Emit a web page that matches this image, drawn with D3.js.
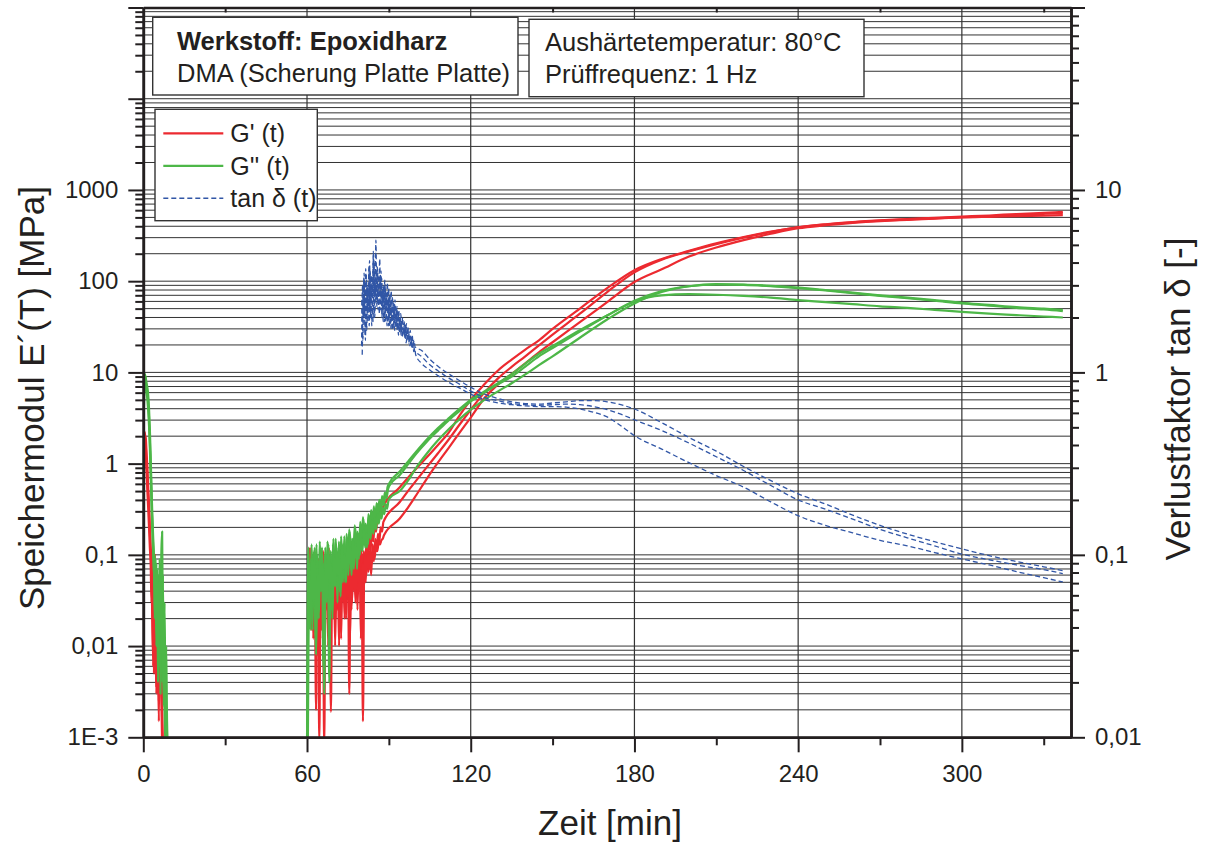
<!DOCTYPE html>
<html>
<head>
<meta charset="utf-8">
<script src="https://cdn.jsdelivr.net/npm/d3@7"></script>
<style>
  body { margin: 0; background: #fff; }
  svg { display: block; }
  text { font-family: "Liberation Sans", Arial, Helvetica, sans-serif; fill: #231f20; }
</style>
</head>
<body>
<div id="chart"></div>
<script>
// ---------------- Data ----------------
// time sampling of the segments [min]
var earlyStep = 0.3, noiseStep = 0.5, tanNoiseStep = 0.35;
var tSmooth = [94, 97, 100, 104, 108, 112, 116, 120, 125, 130, 135, 140, 145, 150, 160, 170, 180, 190, 200, 210, 220, 230, 240, 250, 260, 270, 280, 290, 300, 310, 320, 330, 337];
var tTan = [102, 105, 108, 112, 116, 120, 125, 130, 135, 140, 145, 150, 155, 160, 165, 170, 175, 180, 190, 200, 210, 220, 230, 240, 250, 260, 270, 280, 290, 300, 310, 320, 330, 337];

// G' [MPa], runs 1-3
var gpEarly1 = [1.0, 1.8, 2.2, 1.6, 1.1, 0.7, 0.45, 0.3, 0.18, 0.11, 0.06, 0.02, 0.008, 0.1, 0.005, 0.03, 0.004, 0.02, 0.003, 0.034, 0.017, 0.005, 0.012, 0.002, 0.0008];
var gpEarly2 = [0.6, 1.4, 2.0, 1.9, 1.3, 0.9, 0.55, 0.35, 0.2, 0.12, 0.1, 0.04, 0.006, 0.015, 0.1, 0.01, 0.003, 0.025, 0.008, 0.0015, 0.02, 0.006, 0.003, 0.0008];
var gpEarly3 = [1.5, 2.3, 1.8, 1.2, 0.8, 0.5, 0.32, 0.2, 0.12, 0.08, 0.03, 0.1, 0.012, 0.005, 0.06, 0.009, 0.0035, 0.02, 0.006, 0.0025, 0.03, 0.004, 0.01, 0.0015, 0.0008];
var gpNoiseStart = [60.8, 61.0, 61.25];
var gpNoise1 = [0.1, 0.04, 0.08, 0.012, 0.11, 0.002, 0.07, 0.02, 0.1, 0.015,
                0.06, 0.0008, 0.09, 0.025, 0.12, 0.015, 0.08, 0.03, 0.1, 0.01,
                0.07, 0.025, 0.1, 0.015, 0.08, 0.035, 0.09, 0.02, 0.07, 0.03,
                0.1, 0.025, 0.08, 0.04, 0.11, 0.035, 0.09, 0.05, 0.12, 0.06,
                0.11, 0.07, 0.14, 0.09, 0.16, 0.11, 0.19, 0.14, 0.22, 0.18,
                0.25, 0.23, 0.29, 0.28, 0.33];
var gpNoise2 = [0.12, 0.04, 0.09, 0.015, 0.1, 0.02, 0.07, 0.0009, 0.08, 0.03,
                0.11, 0.012, 0.09, 0.035, 0.12, 0.008, 0.08, 0.025, 0.1, 0.02,
                0.09, 0.04, 0.07, 0.012, 0.09, 0.03, 0.1, 0.045, 0.08, 0.003,
                0.09, 0.03, 0.1, 0.05, 0.09, 0.025, 0.11, 0.04, 0.09, 0.0015,
                0.1, 0.05, 0.12, 0.065, 0.11, 0.06, 0.13, 0.085, 0.15, 0.11,
                0.17, 0.14, 0.2, 0.18, 0.23];
var gpNoise3 = [0.08, 0.015, 0.1, 0.03, 0.07, 0.008, 0.09, 0.02, 0.11, 0.012,
                0.06, 0.025, 0.09, 0.01, 0.1, 0.0019, 0.08, 0.02, 0.1, 0.035,
                0.07, 0.01, 0.09, 0.03, 0.1, 0.02, 0.08, 0.035, 0.09, 0.012,
                0.08, 0.04, 0.1, 0.03, 0.09, 0.05, 0.1, 0.012, 0.08, 0.05,
                0.1, 0.06, 0.1, 0.07, 0.11, 0.08, 0.115, 0.09, 0.125, 0.11,
                0.135, 0.13, 0.145, 0.15, 0.165];
var gpSmooth1 = [0.55, 0.70, 0.88, 1.18, 1.6, 2.2, 3.4, 5.0, 7.4, 10.5, 13.8, 17.8, 22.5, 30, 50, 84, 132, 175, 215, 260, 305, 350, 390, 420, 445, 465, 480, 495, 510, 525, 545, 562, 575];
var gpSmooth2 = [0.38, 0.5, 0.65, 0.92, 1.3, 1.85, 2.7, 3.9, 6.0, 8.6, 11.5, 15, 19.8, 26, 44, 76, 125, 172, 212, 255, 300, 345, 388, 418, 442, 460, 474, 488, 502, 515, 532, 548, 558];
var gpSmooth3 = [0.25, 0.33, 0.45, 0.69, 1.03, 1.5, 2.2, 3.2, 5.2, 7.4, 9.6, 12.6, 16.6, 21.4, 35.5, 59, 98, 135, 186, 234, 282, 331, 380, 410, 435, 455, 470, 485, 500, 508, 515, 523, 530];

// G'' [MPa], runs 1-3
var gppEarly1 = [3.5, 7.0, 9.6, 8.2, 7.5, 6.8, 5.6, 4.0, 2.4, 1.2, 0.55, 0.28, 0.16, 0.1, 0.04, 0.09, 0.02, 0.07, 0.012, 0.05, 0.006, 0.08, 0.02, 0.004, 0.06, 0.003, 0.03, 0.0025, 0.01, 0.0015, 0.0008];
var gppEarly2 = [2.2, 5.0, 8.0, 9.0, 7.0, 6.0, 4.8, 3.2, 1.8, 0.9, 0.45, 0.22, 0.12, 0.06, 0.1, 0.03, 0.08, 0.015, 0.06, 0.008, 0.04, 0.003, 0.1, 0.18, 0.01, 0.004, 0.002, 0.0008];
var gppEarly3 = [4.0, 6.0, 8.5, 7.0, 6.2, 5.0, 3.8, 2.6, 1.5, 0.75, 0.38, 0.2, 0.11, 0.07, 0.02, 0.06, 0.01, 0.05, 0.004, 0.03, 0.09, 0.015, 0.05, 0.006, 0.02, 0.0022, 0.012, 0.0018, 0.0008];
var gppNoiseStart = [60.0, 60.17, 60.33];
var gppNoise1 = [0.0008, 0.12, 0.03, 0.09, 0.015, 0.11, 0.05, 0.13, 0.02, 0.08,
                 0.04, 0.12, 0.006, 0.1, 0.035, 0.14, 0.06, 0.09, 0.025, 0.13,
                 0.05, 0.15, 0.07, 0.11, 0.04, 0.16, 0.08, 0.13, 0.05, 0.17,
                 0.09, 0.19, 0.07, 0.15, 0.1, 0.21, 0.11, 0.18, 0.09, 0.23,
                 0.13, 0.26, 0.15, 0.22, 0.12, 0.28, 0.17, 0.31, 0.2, 0.34,
                 0.22, 0.37, 0.27, 0.4, 0.3, 0.44, 0.35, 0.48, 0.42, 0.55, 0.6];
var gppNoise2 = [0.0009, 0.08, 0.02, 0.13, 0.04, 0.07, 0.01, 0.1, 0.03, 0.14,
                 0.05, 0.09, 0.02, 0.12, 0.06, 0.1, 0.004, 0.11, 0.04, 0.15,
                 0.06, 0.12, 0.03, 0.14, 0.07, 0.1, 0.05, 0.16, 0.08, 0.12,
                 0.06, 0.18, 0.1, 0.14, 0.07, 0.2, 0.12, 0.17, 0.1, 0.22,
                 0.14, 0.25, 0.13, 0.21, 0.16, 0.27, 0.18, 0.3, 0.21, 0.32,
                 0.24, 0.36, 0.28, 0.39, 0.31, 0.43, 0.36, 0.47, 0.42, 0.52, 0.57];
var gppNoise3 = [0.001, 0.06, 0.015, 0.1, 0.03, 0.12, 0.008, 0.07, 0.02, 0.11,
                 0.04, 0.08, 0.003, 0.09, 0.03, 0.13, 0.05, 0.08, 0.02, 0.1,
                 0.045, 0.12, 0.06, 0.09, 0.035, 0.13, 0.07, 0.1, 0.05, 0.14,
                 0.08, 0.12, 0.06, 0.15, 0.09, 0.13, 0.07, 0.17, 0.1, 0.15,
                 0.11, 0.19, 0.12, 0.17, 0.13, 0.21, 0.15, 0.24, 0.17, 0.26,
                 0.19, 0.28, 0.22, 0.3, 0.25, 0.33, 0.28, 0.36, 0.32, 0.39, 0.42];
var gppSmooth1 = [0.82, 1.05, 1.35, 1.85, 2.45, 3.15, 4.0, 5.0, 6.2, 7.6, 9.6, 12.5, 16, 19.5, 29, 42, 60, 70, 72, 71, 69, 66, 62, 59, 56, 53, 51, 48.5, 46, 44, 42.5, 41, 40];
var gppSmooth2 = [0.75, 0.98, 1.28, 1.75, 2.3, 3.0, 3.8, 4.8, 6.0, 7.4, 9.0, 11.6, 15, 18.5, 28, 42, 61, 78, 88, 92, 91, 88, 84, 79, 74, 69, 65, 61, 57, 54, 51, 49, 47];
var gppSmooth3 = [0.5, 0.65, 0.9, 1.3, 1.8, 2.4, 3.1, 3.9, 5.0, 6.2, 7.6, 9.5, 12, 15, 24, 38, 57, 76, 88, 93, 92, 89, 85, 80, 75, 70, 66, 62, 58, 55, 52, 50, 48.5];

// tan delta [-], runs 1-3
var tanNoiseStart = [80.0, 80.12, 80.23];
var tanNoise1 = [1.4, 3.0, 2.0, 2.7, 1.5, 3.4, 2.2, 2.9, 1.8, 3.6,
                 2.4, 3.1, 1.9, 4.0, 2.6, 5.3, 2.3, 3.5, 2.8, 4.2,
                 2.2, 3.3, 2.5, 3.0, 1.9, 2.9, 2.3, 3.1, 1.8, 2.6,
                 2.1, 2.8, 1.7, 2.4, 2.0, 2.5, 1.75, 2.3, 1.9, 2.2,
                 1.65, 2.1, 1.8, 2.0, 1.6, 1.9, 1.7, 1.85, 1.55, 1.75,
                 1.5, 1.7, 1.45, 1.6, 1.42, 1.5, 1.38];
var tanNoise2 = [2.5, 1.5, 3.2, 2.1, 3.7, 1.7, 2.9, 2.3, 4.1, 2.0,
                 3.4, 2.6, 4.6, 2.1, 3.1, 2.5, 3.8, 2.2, 3.3, 2.7,
                 3.6, 2.0, 2.9, 2.4, 3.2, 1.9, 2.7, 2.2, 2.9, 1.8,
                 2.5, 2.0, 2.6, 1.75, 2.35, 1.9, 2.2, 1.7, 2.1, 1.8,
                 2.0, 1.6, 1.9, 1.7, 1.8, 1.55, 1.75, 1.5, 1.7, 1.45,
                 1.6, 1.42, 1.5, 1.35, 1.45, 1.32, 1.3];
var tanNoise3 = [1.25, 2.3, 3.5, 1.6, 2.7, 3.0, 1.9, 3.8, 2.2, 2.9,
                 1.8, 3.3, 4.4, 2.0, 2.8, 3.6, 2.4, 3.0, 2.1, 3.4,
                 2.5, 2.8, 1.9, 3.0, 2.2, 2.6, 1.8, 2.5, 2.0, 2.7,
                 1.75, 2.3, 1.9, 2.4, 1.7, 2.1, 1.8, 2.0, 1.6, 1.9,
                 1.7, 1.85, 1.55, 1.75, 1.6, 1.7, 1.45, 1.6, 1.5, 1.55,
                 1.4, 1.5, 1.35, 1.42, 1.3, 1.35, 1.25];
var tanSmooth1 = [1.32, 1.18, 1.08, 0.98, 0.9, 0.83, 0.76, 0.72, 0.69, 0.675, 0.67, 0.68, 0.69, 0.7, 0.7, 0.69, 0.665, 0.63, 0.53, 0.44, 0.37, 0.305, 0.255, 0.216, 0.19, 0.165, 0.145, 0.13, 0.118, 0.108, 0.099, 0.092, 0.086, 0.082];
var tanSmooth2 = [1.22, 1.1, 1.02, 0.93, 0.86, 0.79, 0.73, 0.7, 0.675, 0.665, 0.66, 0.665, 0.67, 0.665, 0.65, 0.625, 0.59, 0.55, 0.48, 0.41, 0.345, 0.29, 0.24, 0.2, 0.178, 0.157, 0.138, 0.124, 0.112, 0.101, 0.094, 0.088, 0.083, 0.079];
var tanSmooth3 = [1.12, 1.03, 0.96, 0.88, 0.82, 0.76, 0.71, 0.68, 0.665, 0.655, 0.65, 0.65, 0.645, 0.63, 0.605, 0.57, 0.51, 0.45, 0.38, 0.32, 0.272, 0.235, 0.195, 0.164, 0.145, 0.132, 0.12, 0.112, 0.103, 0.095, 0.088, 0.081, 0.075, 0.071];

// axes
var xMajor = [0, 60, 120, 180, 240, 300];
var xMinor = [30, 90, 150, 210, 270, 330];
var leftMajor = [1e-3, 1e-2, 1e-1, 1, 10, 100, 1000, 1e4, 1e5];
var leftLabels = ["1E-3", "0,01", "0,1", "1", "10", "100", "1000", "", ""];
var rightMajor = [0.01, 0.1, 1, 10, 100];
var rightLabels = ["0,01", "0,1", "1", "10", ""];
var legendNames = ["G' (t)", "G'' (t)", "tan \u03b4 (t)"];

// ---------------- Layout ----------------
var W = 1205, H = 843;
var margin = {top: 7.5, right: 134, bottom: 105.7, left: 143.3},
    width = W - margin.left - margin.right,
    height = H - margin.top - margin.bottom;
var font_family = '"Liberation Sans", Arial, Helvetica, sans-serif';
var ink = "#231f20";
var colors = {gp: "#ec2a30", gpp: "#4db748", tan: "#3156a6"};

var x = d3.scaleLinear().domain([0, 340]).range([0, width]);
var yL = d3.scaleLog().domain([1e-3, 1e5]).range([height, 0]);
var yR = d3.scaleLog().domain([0.01, 100]).range([height, 0]);

function minorTicks(lo, hi) {
  var out = [];
  for (var e = lo; e < hi; e++) {
    for (var m = 2; m <= 9; m++) out.push(m * Math.pow(10, e));
  }
  return out;
}
var leftMinor = minorTicks(-3, 5);
var rightMinor = minorTicks(-2, 2);

// build one run: early segment, gap, noisy segment, smooth segment
function buildRun(early, nStart, nStep, noise, tS, smooth) {
  var pts = [];
  if (early) {
    early.forEach(function(v, i) { pts.push({t: i * earlyStep, v: v}); });
    pts.push({t: NaN, v: NaN});
  }
  noise.forEach(function(v, i) { pts.push({t: nStart + i * nStep, v: v}); });
  smooth.forEach(function(v, i) { pts.push({t: tS[i], v: v}); });
  return pts;
}

var gpRuns = [
  buildRun(gpEarly1, gpNoiseStart[0], noiseStep, gpNoise1, tSmooth, gpSmooth1),
  buildRun(gpEarly2, gpNoiseStart[1], noiseStep, gpNoise2, tSmooth, gpSmooth2),
  buildRun(gpEarly3, gpNoiseStart[2], noiseStep, gpNoise3, tSmooth, gpSmooth3)
];
var gppRuns = [
  buildRun(gppEarly1, gppNoiseStart[0], noiseStep, gppNoise1, tSmooth, gppSmooth1),
  buildRun(gppEarly2, gppNoiseStart[1], noiseStep, gppNoise2, tSmooth, gppSmooth2),
  buildRun(gppEarly3, gppNoiseStart[2], noiseStep, gppNoise3, tSmooth, gppSmooth3)
];
var tanRuns = [
  buildRun(null, tanNoiseStart[0], tanNoiseStep, tanNoise1, tTan, tanSmooth1),
  buildRun(null, tanNoiseStart[1], tanNoiseStep, tanNoise2, tTan, tanSmooth2),
  buildRun(null, tanNoiseStart[2], tanNoiseStep, tanNoise3, tTan, tanSmooth3)
];

// ---------------- Draw ----------------
var svg = d3.select("#chart").append("svg")
  .attr("width", W).attr("height", H)
  .append("g")
    .attr("transform", "translate(" + margin.left + "," + margin.top + ")");

svg.append("clipPath").attr("id", "plot-clip")
  .append("rect").attr("width", width).attr("height", height);

// grid
var grid = svg.append("g").attr("class", "grid");
grid.selectAll(".hgrid")
  .data(leftMajor.concat(leftMinor))
  .enter().append("line")
    .attr("x1", 0).attr("x2", width)
    .attr("y1", function(d) { return yL(d); })
    .attr("y2", function(d) { return yL(d); })
    .attr("stroke", "#333").attr("stroke-width", 1);
grid.selectAll(".vgrid")
  .data(xMajor.slice(1))
  .enter().append("line")
    .attr("y1", 0).attr("y2", height)
    .attr("x1", function(d) { return x(d); })
    .attr("x2", function(d) { return x(d); })
    .attr("stroke", "#333").attr("stroke-width", 1.2);

// curves
var plot = svg.append("g").attr("clip-path", "url(#plot-clip)");
var lineL = d3.line()
  .defined(function(d) { return !isNaN(d.t); })
  .x(function(d) { return x(d.t); })
  .y(function(d) { return yL(d.v); })
  .curve(d3.curveMonotoneX);
var lineR = d3.line()
  .defined(function(d) { return !isNaN(d.t); })
  .x(function(d) { return x(d.t); })
  .y(function(d) { return yR(d.v); })
  .curve(d3.curveMonotoneX);

plot.selectAll(".gp").data(gpRuns).enter().append("path")
  .attr("d", lineL).attr("fill", "none")
  .attr("stroke", colors.gp).attr("stroke-width", 2.2).attr("stroke-linejoin", "round");
plot.selectAll(".gpp").data(gppRuns).enter().append("path")
  .attr("d", lineL).attr("fill", "none")
  .attr("stroke", colors.gpp).attr("stroke-width", 2.2).attr("stroke-linejoin", "round");
plot.selectAll(".tan").data(tanRuns).enter().append("path")
  .attr("d", lineR).attr("fill", "none")
  .attr("stroke", colors.tan).attr("stroke-width", 1.3)
  .attr("stroke-dasharray", "5,3");

// info boxes
function infoBox(bx, by, bw, bh) {
  return svg.append("rect")
    .attr("x", bx - margin.left).attr("y", by - margin.top)
    .attr("width", bw).attr("height", bh)
    .attr("fill", "#fff").attr("stroke", "#333").attr("stroke-width", 1.4);
}
infoBox(152.7, 17.3, 365.3, 77.7);
infoBox(529, 19.3, 335, 77.4);

function boxText(tx, ty, str, bold) {
  svg.append("text")
    .attr("x", tx - margin.left).attr("y", ty - margin.top)
    .attr("font-size", "25.5px")
    .attr("font-weight", bold ? "bold" : "normal")
    .text(str);
}
boxText(177, 50, "Werkstoff: Epoxidharz", true);
boxText(177, 82, "DMA (Scherung Platte Platte)", false);
boxText(545, 51, "Aushärtetemperatur: 80°C", false);
boxText(545, 83, "Prüffrequenz: 1 Hz", false);

// legend
infoBox(155, 109.3, 162.3, 111.4);
var legendStyles = [
  {color: colors.gp, width: 2.2, dash: null},
  {color: colors.gpp, width: 2.2, dash: null},
  {color: colors.tan, width: 1.4, dash: "5,3"}
];
var legendRow = svg.selectAll(".legend-row")
  .data(legendNames)
  .enter().append("g")
    .attr("transform", function(d, i) {
      return "translate(" + (163.3 - margin.left) + "," + (133.3 + i * 32.5 - margin.top) + ")";
    });
legendRow.append("line")
  .attr("x1", 0).attr("x2", 60)
  .attr("stroke", function(d, i) { return legendStyles[i].color; })
  .attr("stroke-width", function(d, i) { return legendStyles[i].width; })
  .attr("stroke-dasharray", function(d, i) { return legendStyles[i].dash; });
legendRow.append("text")
  .attr("x", 67).attr("y", 9)
  .attr("font-size", "25px")
  .text(function(d) { return d; });

// axes
function styleAxis(g) {
  g.select(".domain").attr("stroke", ink).attr("stroke-width", 2.6);
  g.selectAll(".tick line").attr("stroke", ink).attr("stroke-width", 2);
  g.selectAll(".tick text").attr("font-size", "24px").attr("font-family", font_family).attr("fill", ink);
}

var axL = svg.append("g")
  .call(d3.axisLeft(yL).tickValues(leftMinor).tickSize(8).tickSizeOuter(0).tickFormat(""));
styleAxis(axL);
var axL2 = svg.append("g")
  .call(d3.axisLeft(yL).tickValues(leftMajor).tickSize(15).tickSizeOuter(0).tickPadding(10)
    .tickFormat(function(d, i) { return leftLabels[i]; }));
styleAxis(axL2);

var axR = svg.append("g").attr("transform", "translate(" + width + ",0)")
  .call(d3.axisRight(yR).tickValues(rightMinor).tickSize(8).tickSizeOuter(0).tickFormat(""));
styleAxis(axR);
var axR2 = svg.append("g").attr("transform", "translate(" + width + ",0)")
  .call(d3.axisRight(yR).tickValues(rightMajor).tickSize(14).tickSizeOuter(0).tickPadding(10)
    .tickFormat(function(d, i) { return rightLabels[i]; }));
styleAxis(axR2);

var axB = svg.append("g").attr("transform", "translate(0," + height + ")")
  .call(d3.axisBottom(x).tickValues(xMinor).tickSize(8).tickSizeOuter(0).tickFormat(""));
styleAxis(axB);
var axB2 = svg.append("g").attr("transform", "translate(0," + height + ")")
  .call(d3.axisBottom(x).tickValues(xMajor).tickSize(15).tickSizeOuter(0).tickPadding(12.5));
styleAxis(axB2);

var axT = svg.append("g")
  .call(d3.axisTop(x).tickValues(xMinor).tickSize(-5).tickSizeOuter(0).tickFormat(""));
styleAxis(axT);

// axis titles
svg.append("text")
  .attr("x", 610 - margin.left).attr("y", 835 - margin.top)
  .attr("text-anchor", "middle").attr("font-size", "35px")
  .text("Zeit [min]");
svg.append("text")
  .attr("transform", "translate(" + (44 - margin.left) + "," + (398 - margin.top) + ") rotate(-90)")
  .attr("text-anchor", "middle").attr("font-size", "35px")
  .text("Speichermodul E\u00b4(T) [MPa]");
svg.append("text")
  .attr("transform", "translate(" + (1190 - margin.left) + "," + (399 - margin.top) + ") rotate(-90)")
  .attr("text-anchor", "middle").attr("font-size", "35px")
  .text("Verlustfaktor tan \u03b4 [-]");
</script>
</body>
</html>
